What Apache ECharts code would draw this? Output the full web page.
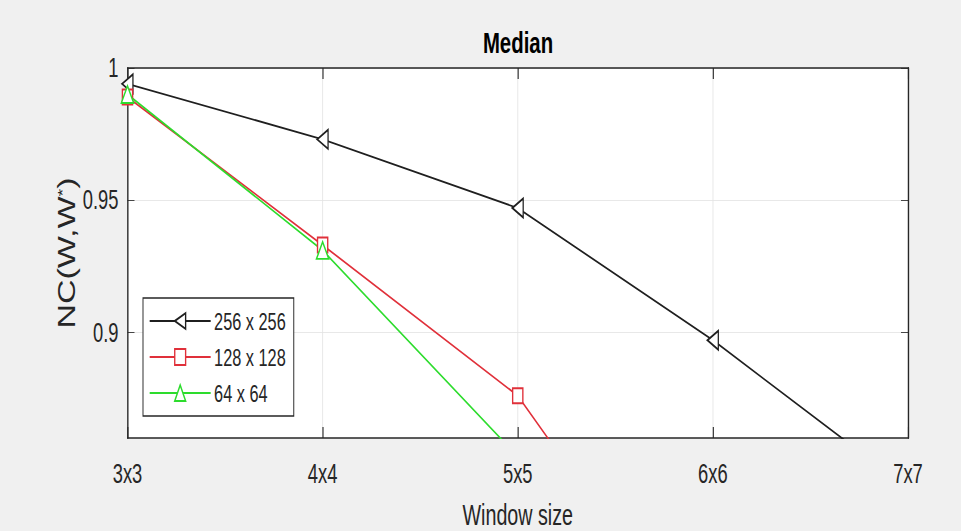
<!DOCTYPE html>
<html><head><meta charset="utf-8">
<script src="https://cdn.jsdelivr.net/npm/echarts@6/dist/echarts.min.js"></script>
<style>
html,body{margin:0;padding:0;background:#f0f0f0;overflow:hidden;width:961px;height:531px}
#c{width:1413px;height:531px;transform:scaleX(0.68);transform-origin:0 0}
</style>
</head><body><div id="c"></div>
<script>
const categories = ['3x3', '4x4', '5x5', '6x6', '7x7'];
const seriesNames = ['256 x 256', '128 x 128', '64 x 64'];
const values256 = [0.994, 0.973, 0.947, 0.897, 0.841];
const values128 = [0.989, 0.933, 0.876, 0.772];
const values64 = [0.990, 0.931, 0.853];
const yTicks = [0.9, 0.95, 1];
const yMin = 0.86, yMax = 1;

// The reference figure is horizontally compressed; the chart is laid out
// in an unsqueezed space and compressed with a CSS scaleX.
const S = 0.68;
const F = "'Liberation Sans',Arial,Helvetica,sans-serif";
const INK = '#262626';
const GRID = '#e3e3e3';

const chart = echarts.init(document.getElementById('c'), null, {renderer: 'svg', width: 1413, height: 531});
const xLine = {show: true, lineStyle: {color: INK, width: 1.6}};
const yLine = {show: true, lineStyle: {color: INK, width: 2}};
chart.setOption({
  backgroundColor: '#f0f0f0',
  animation: false,
  graphic: [{
    type: 'text', x: 518 / S, y: 42,
    style: {text: 'Median', fontFamily: F, fontSize: 30, fontWeight: 'bold', fill: '#000', textAlign: 'center', textVerticalAlign: 'middle'}
  }],
  grid: {left: 127.5 / S, right: 1413 - 908 / S, top: 68, bottom: 93, show: true, backgroundColor: '#fff', borderWidth: 0,
    containLabel: false, outerBoundsMode: 'none'},
  legend: {
    orient: 'vertical', left: 143 / S, top: 298, padding: [11, 8 / S, 11, 6 / S],
    itemWidth: 61 / S, itemHeight: 20, itemGap: 12,
    backgroundColor: '#fff', borderColor: INK, borderWidth: 1.4, borderRadius: 0,
    textStyle: {fontFamily: F, fontSize: 24, color: INK},
    data: seriesNames
  },
  xAxis: [{
    type: 'category', data: categories, boundaryGap: false, position: 'bottom',
    axisLine: xLine,
    axisTick: {inside: true, length: 11, interval: 0, lineStyle: {color: INK, width: 1.6}},
    axisLabel: {interval: 0, color: INK, fontFamily: F, fontSize: 27, margin: 22},
    splitLine: {show: true, interval: 0, lineStyle: {color: GRID, width: 1.2}},
    name: 'Window size', nameLocation: 'middle', nameGap: 63, nameMoveOverlap: false,
    nameTextStyle: {fontFamily: F, fontSize: 29, color: INK}
  }, {
    type: 'category', data: categories, boundaryGap: false, position: 'top',
    axisLine: xLine,
    axisTick: {inside: true, length: 11, interval: 0, lineStyle: {color: INK, width: 1.6}},
    axisLabel: {show: false}, splitLine: {show: false}
  }],
  yAxis: [{
    type: 'value', min: yMin, max: yMax, position: 'left',
    axisLine: yLine,
    axisTick: {show: true, inside: true, length: 7 / S, customValues: yTicks, lineStyle: {color: INK}},
    axisLabel: {customValues: yTicks, color: INK, fontFamily: F, fontSize: 27, margin: 9 / S, formatter: v => String(v)},
    splitLine: {show: true, lineStyle: {color: GRID, width: 1}},
    name: 'NC(W,W{s|*})', nameLocation: 'middle', nameGap: 72, nameRotate: 90, nameMoveOverlap: false,
    nameTextStyle: {fontFamily: F, fontSize: 34, color: INK,
      rich: {s: {fontFamily: F, fontSize: 20, color: INK, verticalAlign: 'top'}}}
  }, {
    type: 'value', min: yMin, max: yMax, position: 'right',
    axisLine: yLine,
    axisTick: {show: true, inside: true, length: 7 / S, customValues: yTicks, lineStyle: {color: INK}},
    axisLabel: {show: false}, splitLine: {show: false}
  }],
  series: [{
    name: seriesNames[0], type: 'line', data: values256, xAxisIndex: 0, yAxisIndex: 0,
    symbol: 'emptyTriangle', symbolSize: [19, 16], symbolRotate: 90,
    lineStyle: {color: '#1f1f1f', width: 1.9}, itemStyle: {color: '#1f1f1f', borderWidth: 1.6}
  }, {
    name: seriesNames[1], type: 'line', data: values128, xAxisIndex: 0, yAxisIndex: 0,
    symbol: 'emptyRect', symbolSize: [15, 15],
    lineStyle: {color: '#e0303a', width: 1.9}, itemStyle: {color: '#e0303a', borderWidth: 1.6}
  }, {
    name: seriesNames[2], type: 'line', data: values64, xAxisIndex: 0, yAxisIndex: 0,
    symbol: 'emptyTriangle', symbolSize: [18, 17],
    lineStyle: {color: '#2ddc2d', width: 1.9}, itemStyle: {color: '#2ddc2d', borderWidth: 1.6}
  }]
});
</script></body></html>
